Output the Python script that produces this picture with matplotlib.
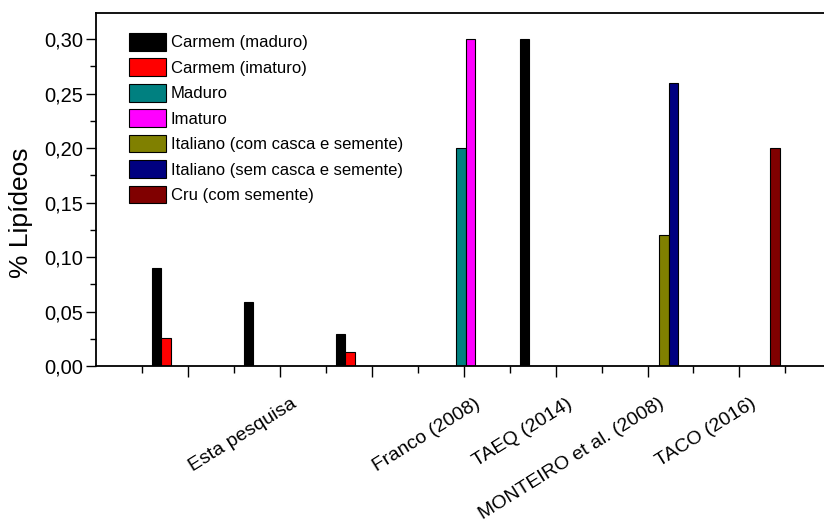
import matplotlib
matplotlib.use("Agg")
import matplotlib.pyplot as plt
import matplotlib.transforms as mtransforms
import numpy as np

plt.rcParams['font.family'] = ['Liberation Sans', 'DejaVu Sans']

# group positions on the x axis (major ticks) and their labels
groups = [1, 2, 3, 4, 5, 6, 7]
group_labels = ['', 'Esta pesquisa', '', 'Franco (2008)', 'TAEQ (2014)',
                'MONTEIRO et al. (2008)', 'TACO (2016)']

nan = np.nan
series_names = ['Carmem (maduro)', 'Carmem (imaturo)', 'Maduro', 'Imaturo',
                'Italiano (com casca e semente)', 'Italiano (sem casca e semente)',
                'Cru (com semente)']
carmem_maduro = [0.09, 0.059, 0.029, nan, 0.30, nan, nan]
carmem_imaturo = [0.026, nan, 0.013, nan, nan, nan, nan]
maduro = [nan, nan, nan, 0.20, nan, nan, nan]
imaturo = [nan, nan, nan, 0.30, nan, nan, nan]
italiano_com = [nan, nan, nan, nan, nan, 0.12, nan]
italiano_sem = [nan, nan, nan, nan, nan, 0.26, nan]
cru = [nan, nan, nan, nan, nan, nan, 0.20]
series = [carmem_maduro, carmem_imaturo, maduro, imaturo, italiano_com, italiano_sem, cru]
colors = ['#000000', '#ff0000', '#008080', '#ff00ff', '#808000', '#000080', '#800000']
slots = [0, 1, 3, 4, 5, 6, 7]   # slot 2 is an empty series in the original layout

y_ticks = [0.0, 0.05, 0.10, 0.15, 0.20, 0.25, 0.30]
y_labels = ['0,00', '0,05', '0,10', '0,15', '0,20', '0,25', '0,30']

fig = plt.figure(figsize=(8.24, 5.31), dpi=100)
ax = fig.add_axes([96/824, 1-366/531, 1-96/824, (366-13)/531])

w = 0.104
x = np.array(groups, dtype=float)
for vals, c, s, name in zip(series, colors, slots, series_names):
    vals = np.array(vals)
    ok = ~np.isnan(vals)
    ax.bar(x[ok] - 0.34 + s*w, vals[ok], width=w, color=c, edgecolor='black',
           linewidth=0.8, label=name)

ax.set_xlim(0, 7.92)
ax.set_ylim(0, 0.324)

ax.set_yticks(y_ticks)
ax.set_yticklabels(y_labels)
ax.set_yticks(np.arange(0.025, 0.32, 0.05), minor=True)
ax.set_xticks(groups)
ax.set_xticks(np.arange(0.5, 7.6, 1.0), minor=True)
ax.set_xticklabels(group_labels, rotation=32, rotation_mode='anchor',
                   ha='right', va='top')

ax.tick_params(axis='y', which='major', length=7.2, width=1, labelsize=14.5, pad=2)
ax.tick_params(axis='y', which='minor', length=4.3, width=1)
ax.tick_params(axis='x', which='major', length=8, width=1, labelsize=14, pad=13)
ax.tick_params(axis='x', which='minor', length=4.8, width=1)

# labels sit a bit right of their ticks, as in the original
shift = mtransforms.ScaledTranslation(11/100, 0, fig.dpi_scale_trans)
for lab in ax.get_xticklabels():
    lab.set_transform(lab.get_transform() + shift)

for side in ['top', 'left', 'bottom']:
    ax.spines[side].set_linewidth(1.3)
ax.spines['right'].set_visible(False)

ax.set_ylabel('% Lipídeos', fontsize=19)
ax.yaxis.set_label_coords(-0.086, 0.433)

ax.legend(loc='upper left', bbox_to_anchor=(129/824, 1-33/531),
          bbox_transform=fig.transFigure, frameon=False, fontsize=12,
          handlelength=2.2, handleheight=1.25, labelspacing=0.47,
          handletextpad=0.3, borderpad=0, borderaxespad=0)

fig.savefig('out.png', dpi=100)
